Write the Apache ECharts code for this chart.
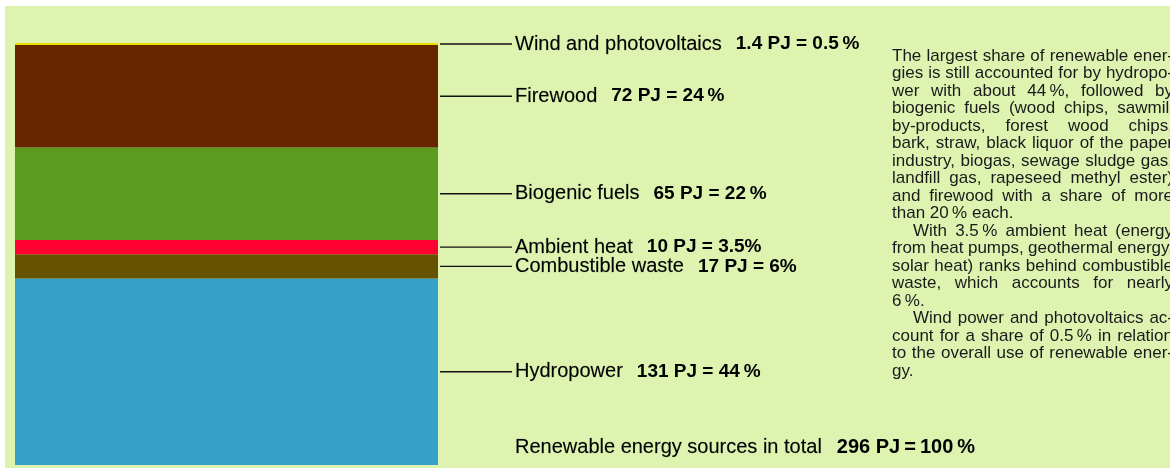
<!DOCTYPE html>
<html>
<head>
<meta charset="utf-8">
<script src="https://cdn.jsdelivr.net/npm/echarts@6/dist/echarts.min.js"></script>
<style>
  html, body { margin: 0; padding: 0; background: #ffffff; }
  #panel { position: absolute; left: 5px; top: 6px; right: 0; bottom: 0; background: #dff3b1; }
  #chart { position: absolute; left: 0; top: 0; width: 1170px; height: 468px; }
</style>
</head>
<body>
<div id="panel"></div>
<div id="chart"></div>
<script>
// ---- data (bottom to top of the stacked bar) ----
const categories = ['Hydropower', 'Combustible waste', 'Ambient heat', 'Biogenic fuels', 'Firewood', 'Wind and photovoltaics'];
const valuesPJ = [131, 17, 10, 65, 72, 1.4];
const valueLabels = ['131 PJ = 44\u2009%', '17 PJ = 6%', '10 PJ = 3.5%', '65 PJ = 22\u2009%', '72 PJ = 24\u2009%', '1.4 PJ = 0.5\u2009%'];
const totalLabel = 'Renewable energy sources in total';
const totalValueLabel = '296 PJ\u2009=\u2009100\u2009%';
const paragraphLines = [
  'The largest share of renewable ener-',
  'gies is still accounted for by hydropo-',
  'wer with about 44\u2009%, followed by',
  'biogenic fuels (wood chips, sawmill',
  'by-products, forest wood chips,',
  'bark, straw, black liquor of the paper',
  'industry, biogas, sewage sludge gas,',
  'landfill gas, rapeseed methyl ester)',
  'and firewood with a share of more',
  'than 20\u2009% each.',
  'With 3.5\u2009% ambient heat (energy',
  'from heat pumps, geothermal energy,',
  'solar heat) ranks behind combustible',
  'waste, which accounts for nearly',
  '6\u2009%.',
  'Wind power and photovoltaics ac-',
  'count for a share of 0.5\u2009% in relation',
  'to the overall use of renewable ener-',
  'gy.'
];
const paragraphEnds = [9, 14, 18];      // last line of each paragraph (not justified)
const paragraphStarts = [10, 15];       // indented first lines

// ---- styles ----
const colors = ['#35a1c9', '#665300', '#ff0033', '#5b9b1f', '#662700', '#e6e000'];
const FONT = '"Liberation Sans", Arial, Helvetica, sans-serif';

const total = valuesPJ.reduce((a, b) => a + b, 0);

const series = categories.map((name, i) => ({
  name: name,
  type: 'bar',
  stack: 'all',
  barWidth: '100%',
  data: [valuesPJ[i]],
  itemStyle: { color: colors[i] },
  label: {
    show: true,
    position: 'right',
    distance: 2,
    formatter: () => '{ln|}{nm|' + name + '}{vl|' + valueLabels[i] + '}',
    rich: {
      ln: { width: 72, height: 1.4, backgroundColor: '#111' },
      nm: { fontFamily: FONT, fontSize: 20, color: '#000', padding: [0, 14, 0, 3],
            textBorderColor: 'rgba(0,0,0,0.35)', textBorderWidth: 0.4 },
      vl: { fontFamily: FONT, fontSize: 19, fontWeight: 'bold', color: '#000' }
    }
  },
  emphasis: { disabled: true },
  animation: false
}));

// ---- justified paragraph built as text elements ----
const pFontSize = 17;
const pFont = pFontSize + 'px ' + FONT;
const ctx = document.createElement('canvas').getContext('2d');
ctx.font = pFont;
const pLeft = 892, pWidth = 281, pTop = 56, pLineH = 17.5, pIndent = 21;
const graphics = [];
paragraphLines.forEach((line, li) => {
  const words = line.split(' ');
  const indent = paragraphStarts.includes(li) ? pIndent : 0;
  const widths = words.map(w => ctx.measureText(w).width);
  const sum = widths.reduce((a, b) => a + b, 0);
  let gap = ctx.measureText(' ').width;
  if (!paragraphEnds.includes(li) && words.length > 1) {
    gap = Math.max(gap * 0.8, (pWidth - indent - sum) / (words.length - 1));
  }
  let x = pLeft + indent;
  words.forEach((w, wi) => {
    graphics.push({
      type: 'text', x: x, y: pTop + li * pLineH, silent: true,
      style: { text: w, font: pFont, fill: '#1a1a1a', textVerticalAlign: 'middle' }
    });
    x += widths[wi] + gap;
  });
});

const chart = echarts.init(document.getElementById('chart'), null, { renderer: 'canvas' });
chart.setOption({
  animation: false,
  backgroundColor: 'transparent',
  title: {
    text: '{a|' + totalLabel + '}{b|' + totalValueLabel + '}',
    left: 515, top: 437, padding: 0,
    textStyle: {
      fontWeight: 'normal',
      rich: {
        a: { fontFamily: FONT, fontSize: 20, fontWeight: 'normal', color: '#000', padding: [0, 15, 0, 0],
             textBorderColor: 'rgba(0,0,0,0.35)', textBorderWidth: 0.4 },
        b: { fontFamily: FONT, fontSize: 20, fontWeight: 'bold', color: '#000' }
      }
    }
  },
  grid: { left: 15, top: 43, width: 423, bottom: 3, containLabel: false },
  xAxis: { type: 'category', data: ['total'], show: false },
  yAxis: { type: 'value', min: 0, max: total, show: false },
  tooltip: { show: false },
  series: series,
  graphic: graphics
});
</script>
</body>
</html>
